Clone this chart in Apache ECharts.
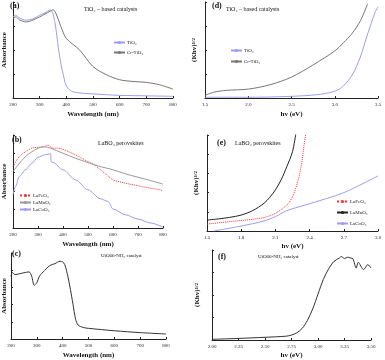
<!DOCTYPE html>
<html>
<head>
<meta charset="utf-8">
<script src="https://cdn.jsdelivr.net/npm/echarts@6/dist/echarts.min.js"></script>
<style>
  html, body { margin: 0; padding: 0; background: #fff; }
  #chart { width: 385px; height: 360px; }
</style>
</head>
<body>
<div id="chart"></div>
<script>
// (a) absorbance, TiO2 based
const aTiO2X = [200, 210, 225, 250, 275, 300, 320, 340, 350, 360, 370, 380, 390, 400, 420, 450, 500, 600, 700, 800]
const aTiO2Y = [3.38, 3.45, 3.33, 3.24, 3.3, 3.45, 3.55, 3.66, 3.5, 2.95, 2.1, 1.4, 0.9, 0.5, 0.28, 0.21, 0.17, 0.11, 0.09, 0.07]
const aCrX = [200, 210, 225, 250, 275, 300, 320, 340, 350, 360, 380, 400, 450, 500, 550, 600, 650, 700, 750, 800]
const aCrY = [3.31, 3.38, 3.25, 3.17, 3.25, 3.38, 3.5, 3.62, 3.68, 3.55, 2.97, 2.48, 2.0, 1.31, 0.97, 0.76, 0.69, 0.65, 0.55, 0.37]
// (d) Tauc, TiO2 based
const dTiO2X = [1.5, 2.0, 2.5, 2.8, 3.0, 3.1, 3.2, 3.25, 3.3, 3.37, 3.42, 3.47, 3.5]
const dTiO2Y = [0.03, 0.03, 0.07, 0.14, 0.28, 0.5, 0.95, 1.3, 1.75, 2.55, 3.1, 3.6, 3.8]
const dCrX = [1.5, 1.6, 1.75, 2.0, 2.25, 2.5, 2.75, 3.0, 3.1, 3.2, 3.3, 3.38]
const dCrY = [0.11, 0.24, 0.32, 0.37, 0.55, 0.87, 1.38, 1.96, 2.3, 2.69, 3.24, 3.93]
// (b) absorbance, LaBO3
const bFeX = [200, 225, 250, 275, 300, 325, 340, 350, 360, 375, 400, 450, 500, 525, 550, 575, 600, 650, 700, 750, 790, 800]
const bFeY = [3.3, 3.84, 4.1, 4.29, 4.34, 4.37, 4.46, 4.37, 4.29, 4.29, 4.23, 3.93, 3.57, 3.39, 3.13, 2.86, 2.59, 2.41, 2.27, 2.14, 2.05, 1.96]
const bMnX = [200, 250, 300, 325, 350, 400, 450, 500, 550, 600, 650, 700, 750, 800]
const bMnY = [3.04, 3.84, 4.29, 4.37, 4.29, 4.02, 3.75, 3.52, 3.3, 3.13, 2.91, 2.73, 2.55, 2.36]
const bCoX = [200, 210, 225, 250, 275, 300, 325, 345, 351, 352, 360, 400, 450, 500, 550, 580, 600, 650, 700, 750, 800]
const bCoY = [1.79, 2.23, 2.77, 3.13, 3.48, 3.8, 3.93, 3.98, 3.98, 3.57, 3.52, 3.13, 2.59, 2.05, 1.57, 1.43, 1.02, 0.71, 0.48, 0.27, 0.04]
// (e) Tauc, LaBO3
const eFeX = [1.5, 1.7, 1.9, 2.0, 2.1, 2.2, 2.25, 2.3, 2.33, 2.35, 2.37]
const eFeY = [0.36, 0.49, 0.61, 0.7, 0.92, 1.35, 1.79, 2.66, 3.52, 4.4, 5.2]
const eMnX = [1.5, 1.6, 1.7, 1.8, 1.9, 2.0, 2.05, 2.1, 2.15, 2.2, 2.25, 2.28]
const eMnY = [0.57, 0.63, 0.71, 0.83, 1.06, 1.44, 1.75, 2.14, 2.66, 3.35, 4.13, 5.1]
const eCoX = [1.56, 1.8, 2.0, 2.1, 2.2, 2.4, 2.7, 3.0]
const eCoY = [0.0, 0.26, 0.52, 0.75, 1.06, 1.42, 2.0, 2.87]
// (c) absorbance, UiO66-NH2
const cUioX = [200, 205, 215, 250, 270, 280, 290, 300, 310, 330, 350, 370, 390, 400, 408, 420, 430, 440, 450, 460, 480, 500, 600, 700, 800]
const cUioY = [3.65, 3.88, 3.75, 3.85, 3.9, 3.65, 3.12, 3.27, 3.65, 3.98, 4.27, 4.38, 4.52, 4.48, 4.33, 3.65, 2.88, 2.02, 1.15, 0.81, 0.67, 0.62, 0.48, 0.37, 0.29]
// (f) Tauc, UiO66-NH2
const fUioX = [2.0, 2.25, 2.5, 2.7, 2.75, 2.8, 2.85, 2.9, 2.95, 3.0, 3.05, 3.1, 3.15, 3.2, 3.22, 3.25, 3.28, 3.31, 3.33, 3.36, 3.38, 3.43, 3.47, 3.5]
const fUioY = [0.03, 0.07, 0.12, 0.17, 0.22, 0.32, 0.51, 0.87, 1.38, 2.04, 2.69, 3.16, 3.49, 3.64, 3.71, 3.62, 3.68, 3.64, 3.61, 3.2, 3.45, 3.13, 3.35, 3.2]

const serif = 'Liberation Serif'
const pairs = (xs, ys) => xs.map((x, i) => [x, ys[i]])

const grids = [
  {left: 12, top: 2, width: 161, height: 96},   // a
  {left: 205, top: 2, width: 173, height: 96},  // d
  {left: 12, top: 135, width: 151, height: 93}, // b
  {left: 207, top: 135, width: 171, height: 96},// e
  {left: 9, top: 253, width: 157, height: 87},  // c
  {left: 212, top: 250, width: 159, height: 93} // f
]

const axisLine = {show: true, lineStyle: {color: '#222', width: 1}}
const axisTick = {show: true, inside: true, length: 2, lineStyle: {color: '#222'}}

const makeX = (idx, min, max, interval, digits, name, gap) => ({
  type: 'value', gridIndex: idx, min: min, max: max, interval: interval,
  axisLine: axisLine, axisTick: axisTick, splitLine: {show: false},
  axisLabel: {fontFamily: serif, fontSize: 5, color: '#222', margin: 4,
    formatter: v => v.toFixed(digits)},
  name: name, nameLocation: 'middle', nameGap: gap,
  nameTextStyle: {fontFamily: serif, fontSize: 7, fontWeight: 'bold', color: '#111'}
})
const makeY = (idx, max, name, gap) => ({
  type: 'value', gridIndex: idx, min: 0, max: max, interval: 1,
  axisLine: axisLine, axisTick: axisTick, splitLine: {show: false},
  axisLabel: {show: false},
  name: name, nameLocation: 'middle', nameGap: gap, nameRotate: 90,
  nameTextStyle: {fontFamily: serif, fontSize: 7, fontWeight: 'bold', color: '#111',
    rich: {sup: {fontFamily: serif, fontSize: 5, fontWeight: 'bold', verticalAlign: 'top', color: '#111'}}}
})
const khv = '(Khv){sup|1/2}'

const line = (name, idx, data, color, width, type) => ({
  name: name, type: 'line', xAxisIndex: idx, yAxisIndex: idx,
  data: data, showSymbol: false, symbol: 'none', smooth: 0.3,
  lineStyle: {color: color, width: width || 1, type: type || 'solid'},
  itemStyle: {color: color}
})

const txt = (text, left, top, size, bold) => ({
  text: text, left: left, top: top, padding: 0,
  textStyle: {fontFamily: serif, fontSize: size, fontWeight: bold ? 'bold' : 'normal', color: '#111'}
})

const legend = (names, left, top, gap) => ({
  data: names, left: left, top: top, orient: 'vertical', padding: 0,
  itemWidth: 11, itemHeight: 4, itemGap: gap, selectedMode: false,
  textStyle: {fontFamily: serif, fontSize: 5, color: '#222', padding: [0, 0, 0, -3]}
})

const blue = '#9c9cf2'
const gray = '#777777'
const red = '#ff3333'

// LaCoO3 has a sharp step near 350 nm, keep it from overshooting
const bCoSeries = line('LaCoO₃', 2, pairs(bCoX, bCoY), blue)
bCoSeries.smoothMonotone = 'x'

const option = {
  animation: false,
  backgroundColor: '#fff',
  grid: grids,
  xAxis: [
    makeX(0, 200, 800, 100, 0, 'Wavelength (nm)', 13),
    makeX(1, 1.5, 3.5, 0.5, 1, 'hv (eV)', 13),
    makeX(2, 200, 800, 100, 0, 'Wavelength (nm)', 13),
    makeX(3, 1.5, 3.0, 0.3, 1, 'hv (eV)', 12),
    makeX(4, 200, 800, 100, 0, 'Wavelength (nm)', 13),
    makeX(5, 2.0, 3.5, 0.25, 2, 'hv (eV)', 12)
  ],
  yAxis: [
    makeY(0, 4, 'Absorbance', 5),
    makeY(1, 4, khv, 7),
    makeY(2, 5, 'Absorbance', 5),
    makeY(3, 5, khv, 7),
    makeY(4, 5, 'Absorbance', 3),
    makeY(5, 4, khv, 11)
  ],
  title: [
    txt('(a)', 10, 2, 8, true),
    txt('TiO₂ – based catalysts', 84, 6, 6),
    txt('(d)', 212, 2, 8, true),
    txt('TiO₂ – based catalysts', 226, 6, 6),
    txt('(b)', 12, 136, 8, true),
    txt('LaBO₃ perovskites', 98, 140, 6),
    txt('(e)', 217, 139, 8, true),
    txt('LaBO₃ perovskites', 235, 140, 6),
    txt('(c)', 12, 250, 8, true),
    txt('UiO66-NH₂ catalyst', 101, 253, 5),
    txt('(f)', 218, 253, 8, true),
    txt('UiO66-NH₂ catalyst', 258, 254, 5)
  ],
  legend: [
    legend(['TiO₂', 'Cr-TiO₂'], 113, 40, 5),
    legend(['TiO₂ ', 'Cr-TiO₂ '], 230, 48, 6),
    legend(['LaFeO₃', 'LaMnO₃', 'LaCoO₃'], 19, 193, 2),
    legend(['LaFeO₃ ', 'LaMnO₃ ', 'LaCoO₃ '], 336, 199, 6)
  ],
  series: [
    line('TiO₂', 0, pairs(aTiO2X, aTiO2Y), blue),
    line('Cr-TiO₂', 0, pairs(aCrX, aCrY), gray),
    line('TiO₂ ', 1, pairs(dTiO2X, dTiO2Y), blue),
    line('Cr-TiO₂ ', 1, pairs(dCrX, dCrY), gray),
    line('LaFeO₃', 2, pairs(bFeX, bFeY), red, 1, 'dotted'),
    line('LaMnO₃', 2, pairs(bMnX, bMnY), '#999999'),
    bCoSeries,
    line('LaFeO₃ ', 3, pairs(eFeX, eFeY), red, 1, 'dotted'),
    line('LaMnO₃ ', 3, pairs(eMnX, eMnY), '#222222'),
    line('LaCoO₃ ', 3, pairs(eCoX, eCoY), blue),
    line('UiO66-NH₂', 4, pairs(cUioX, cUioY), '#333333'),
    line('UiO66-NH₂ ', 5, pairs(fUioX, fUioY), '#333333')
  ]
}

const chart = echarts.init(document.getElementById('chart'))
chart.setOption(option)
</script>
</body>
</html>
